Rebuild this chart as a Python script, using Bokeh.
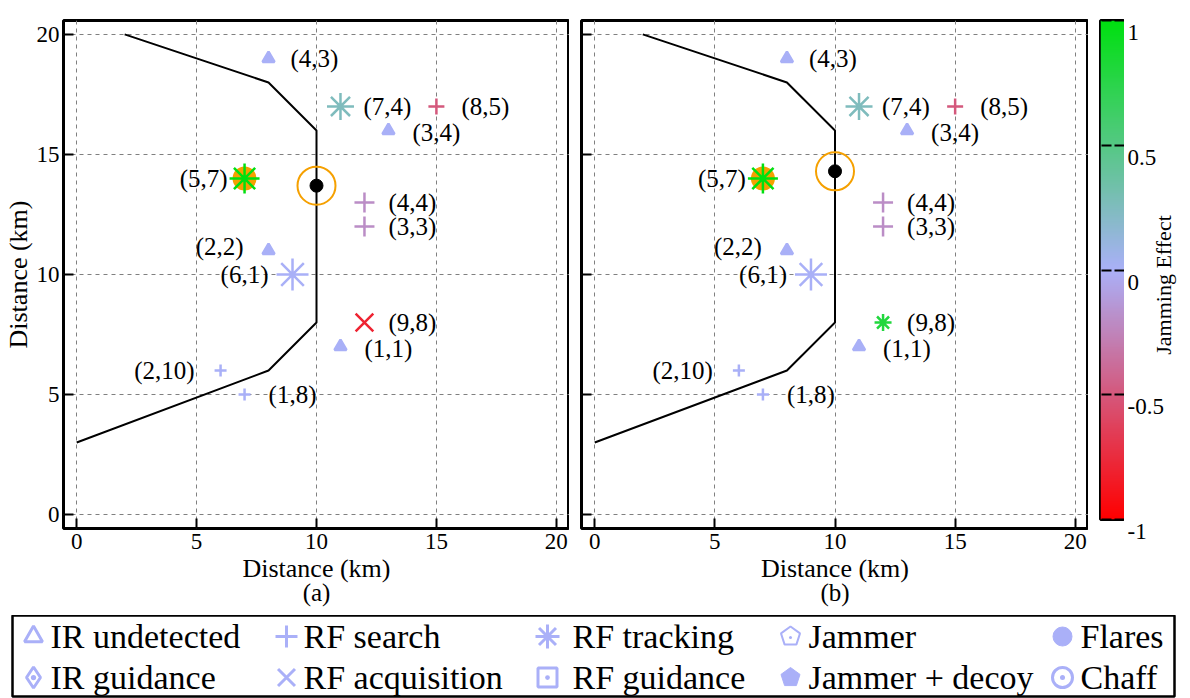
import numpy as np
from bokeh.plotting import figure
from bokeh.models import (ColumnDataSource, Range1d, FixedTicker,
                          LinearColorMapper, Title)
from bokeh.layouts import row, column
from bokeh.transform import transform
from bokeh.core.properties import value
from bokeh.embed import file_html
from bokeh.resources import INLINE

FONT = "Liberation Serif"

# ---------------- data ----------------
boundary_x = [0, 8, 10, 10, 8, 2]
boundary_y = [3, 6, 8, 16, 18, 20]

threat_x = [8, 11, 15, 13, 7, 12, 12, 8, 9, 12, 11, 6, 7]
threat_y = [19, 17, 17, 16, 14, 13, 12, 11, 10, 8, 7, 6, 5]
threat_label = ["(4,3)", "(7,4)", "(8,5)", "(3,4)", "(5,7)", "(4,4)", "(3,3)",
                "(2,2)", "(6,1)", "(9,8)", "(1,1)", "(2,10)", "(1,8)"]
threat_type_a = ["IR undetected", "RF tracking", "RF search", "IR undetected",
                 "RF tracking", "RF search", "RF search", "IR undetected",
                 "RF tracking", "RF acquisition", "IR undetected", "RF search", "RF search"]
threat_type_b = ["IR undetected", "RF tracking", "RF search", "IR undetected",
                 "RF tracking", "RF search", "RF search", "IR undetected",
                 "RF tracking", "RF tracking", "IR undetected", "RF search", "RF search"]
effect_a = [0.0, 0.25, -0.5, 0.0, 1.0, -0.2, -0.2, 0.0, 0.0, -0.8, 0.0, 0.0, 0.0]
effect_b = [0.0, 0.25, -0.5, 0.0, 1.0, -0.2, -0.2, 0.0, 0.0, 0.8, 0.0, 0.0, 0.0]

flare_x = [7]
flare_y = [14]
aircraft_x_a = [10]
aircraft_y_a = [13.7]
aircraft_x_b = [10]
aircraft_y_b = [14.3]

axis_ticks = [0, 5, 10, 15, 20]
cbar_ticks = [-1, -0.5, 0, 0.5, 1]
cbar_tick_labels = ["-1", "-0.5", "0", "0.5", "1"]
cbar_title = "Jamming Effect"

legend_labels = ["IR undetected", "RF search", "RF tracking", "Jammer", "Flares",
                 "IR guidance", "RF acquisition", "RF guidance", "Jammer + decoy", "Chaff"]

# ---------------- styles ----------------
marker_of = {"IR undetected": "triangle", "RF search": "cross",
             "RF tracking": "asterisk", "RF acquisition": "x"}
size_a = [12, 27, 16, 12, 30, 20, 20, 12, 32, 25, 12, 12, 12]
size_b = [12, 27, 16, 12, 30, 20, 20, 12, 32, 17, 12, 12, 12]
label_dx = [22, 23, 25, 24, -17, 24, 24, -25, -24, 24, 24, -26, 24]
label_dy = [0, 0, 0, 2, 0, 0, 0, -4, 0, 0, 2, 0, 0]

ORANGE = "#f5a000"
LAVENDER = "#aab0f8"

# colour scale: red -> lavender -> green
stops = [(-1.0, (255, 0, 0)), (0.0, (170, 176, 248)), (1.0, (0, 224, 16))]
palette = []
for v in np.linspace(-1, 1, 256):
    if v <= 0:
        t = v + 1.0
        c0, c1 = stops[0][1], stops[1][1]
    else:
        t = v
        c0, c1 = stops[1][1], stops[2][1]
    rgb = [int(round(a + (b - a) * t)) for a, b in zip(c0, c1)]
    palette.append("#%02x%02x%02x" % tuple(rgb))
mapper = LinearColorMapper(palette=palette, low=-1, high=1)


def hide_title(p):
    p.title.visible = False
    try:
        p.title_location = None
    except Exception:
        pass


def style_axis(ax, show_labels, ticks):
    ax.ticker = FixedTicker(ticks=ticks)
    ax.axis_line_color = None
    ax.major_tick_in = 10
    ax.major_tick_out = 0
    ax.minor_tick_in = 0
    ax.minor_tick_out = 0
    ax.major_tick_line_width = 2
    ax.major_tick_line_color = "black"
    ax.minor_tick_line_color = None
    ax.major_label_text_font = FONT
    ax.major_label_text_color = "black"
    ax.major_label_text_font_size = "23px"
    ax.axis_label_text_font = FONT
    ax.axis_label_text_font_style = "normal"
    ax.axis_label_text_color = "black"
    ax.axis_label_text_font_size = "26px"
    if show_labels:
        ax.major_label_standoff = 4
    else:
        ax.major_label_overrides = {t: "" for t in ticks}
        ax.major_label_standoff = 0


def make_panel(types, effects, sizes, ac_x, ac_y, caption, min_left, fw, show_y):
    p = figure(frame_width=fw, frame_height=508,
               x_range=Range1d(-0.55, 20.55), y_range=Range1d(-0.58, 20.58),
               output_backend="svg", toolbar_location=None,
               min_border_left=min_left, min_border_right=0,
               min_border_top=17, min_border_bottom=90)
    hide_title(p)
    p.outline_line_color = "black"
    p.outline_line_width = 3
    p.outline_line_alpha = 1
    p.background_fill_color = "white"
    p.border_fill_color = "white"

    style_axis(p.xaxis[0], True, axis_ticks)
    style_axis(p.yaxis[0], show_y, axis_ticks)
    p.xaxis[0].major_label_standoff = 5
    p.xaxis[0].axis_label = "Distance (km)"
    p.xaxis[0].axis_label_standoff = 2
    if show_y:
        p.yaxis[0].axis_label = "Distance (km)"
        p.yaxis[0].axis_label_standoff = 1

    for g in (p.xgrid[0], p.ygrid[0]):
        g.grid_line_color = "#808080"
        g.grid_line_dash = "4 4"
        g.grid_line_width = 1

    p.add_layout(Title(text=caption, align="center", text_font=FONT,
                       text_font_size="25px", text_font_style="normal",
                       text_color="black", standoff=-18), "below")

    p.line(boundary_x, boundary_y, line_color="black", line_width=2)

    p.scatter(flare_x, flare_y, marker="circle", size=24,
              fill_color=ORANGE, line_color=None)

    src = ColumnDataSource(dict(x=threat_x, y=threat_y, effect=effects,
                                marker=[marker_of[t] for t in types], size=sizes))
    p.scatter("x", "y", source=src, marker="marker", size="size",
              fill_color=transform("effect", mapper),
              line_color=transform("effect", mapper), line_width=2.5)

    right = [i for i in range(len(threat_x)) if label_dx[i] > 0]
    left = [i for i in range(len(threat_x)) if label_dx[i] < 0]
    for idx, align in ((right, "left"), (left, "right")):
        s = ColumnDataSource(dict(x=[threat_x[i] for i in idx],
                                  y=[threat_y[i] for i in idx],
                                  t=[threat_label[i] for i in idx],
                                  dx=[label_dx[i] for i in idx],
                                  dy=[label_dy[i] for i in idx]))
        p.text("x", "y", text="t", source=s, x_offset="dx", y_offset="dy",
               text_align=align, text_baseline="middle",
               text_font=value(FONT), text_font_size="25px", text_color="black")

    p.scatter(ac_x, ac_y, marker="circle", size=38, fill_color=None,
              line_color=ORANGE, line_width=2)
    p.scatter(ac_x, ac_y, marker="circle", size=13, fill_color="black",
              line_color="black")
    return p


pa = make_panel(threat_type_a, effect_a, size_a, aircraft_x_a, aircraft_y_a,
                "(a)", 63, 506, True)
pb = make_panel(threat_type_b, effect_b, size_b, aircraft_x_b, aircraft_y_b,
                "(b)", 12, 507, False)

# ---------------- colour bar ----------------
cb = figure(frame_width=24, frame_height=499, x_range=Range1d(0, 1),
            y_range=Range1d(-1, 1), output_backend="svg", toolbar_location=None,
            x_axis_location=None, y_axis_location="right",
            min_border_left=12, min_border_right=0, min_border_top=20,
            min_border_bottom=96)
hide_title(cb)
cb.grid.visible = False
cb.outline_line_color = "black"
cb.outline_line_width = 3
cb.outline_line_alpha = 1
grad = np.linspace(-1, 1, 256).reshape(-1, 1)
cb.image(image=[grad], x=0, y=-1, dw=1, dh=2, color_mapper=mapper)
yax = cb.yaxis[0]
style_axis(yax, False, cbar_ticks)
yax.major_tick_in = 24
yax.major_tick_line_dash = "10 3"

# tick labels and title of the colour bar, on the same value scale
# (frame 12 px taller at each end so the end labels are not clipped)
pad = 12 / 249.5
cl = figure(frame_width=56, frame_height=523, x_range=Range1d(0, 56),
            y_range=Range1d(-1 - pad, 1 + pad), output_backend="svg",
            toolbar_location=None, x_axis_location=None, y_axis_location=None,
            min_border_left=0, min_border_right=0, min_border_top=8,
            min_border_bottom=84)
hide_title(cl)
cl.grid.visible = False
cl.outline_line_color = None
cl.text([3] * len(cbar_ticks), cbar_ticks, text=cbar_tick_labels,
        text_align="left", text_baseline="middle", text_font=value(FONT),
        text_font_size="23px", text_color="black")
cl.text([39], [-0.012], text=[cbar_title], angle=np.pi / 2,
        text_align="center", text_baseline="middle", text_font=value(FONT),
        text_font_size="22px", text_color="black")

# ---------------- legend ----------------
LW, LH = 1162, 81
lg = figure(frame_width=LW, frame_height=LH, x_range=Range1d(0, LW),
            y_range=Range1d(LH, 0), output_backend="svg", toolbar_location=None,
            x_axis_location=None, y_axis_location=None,
            min_border_left=12, min_border_right=2, min_border_top=0,
            min_border_bottom=2)
hide_title(lg)
lg.grid.visible = False
lg.outline_line_color = "black"
lg.outline_line_width = 2.5
lg.outline_line_alpha = 1

col_icon = [21, 274, 535, 778, 1050]
col_text = [38, 291, 560, 796, 1068]
row_y = [21, 62]

leg_marker = {"IR undetected": "triangle", "RF search": "cross", "RF tracking": "asterisk",
              "Flares": "circle", "IR guidance": "diamond_dot", "RF acquisition": "x",
              "RF guidance": "square_dot", "Chaff": "circle_dot"}
leg_filled = {"Flares"}
leg_size = {"IR undetected": 18, "RF search": 22, "RF tracking": 24, "Flares": 19,
            "IR guidance": 21, "RF acquisition": 24, "RF guidance": 19, "Chaff": 20}

tx, ty = [], []
for k, lab in enumerate(legend_labels):
    r, c = divmod(k, 5)
    cx, cy = col_icon[c], row_y[r]
    tx.append(col_text[c])
    ty.append(cy)
    if lab in leg_marker:
        filled = lab in leg_filled
        lg.scatter([cx], [cy], marker=leg_marker[lab], size=leg_size[lab],
                   fill_color=LAVENDER if filled else None, line_color=LAVENDER,
                   line_width=1 if filled else 3)
    else:
        ang = np.deg2rad(90 + 72 * np.arange(5))
        rad = 10
        xs = list(cx + rad * np.cos(ang))
        ys = list(cy - rad * np.sin(ang))
        if lab == "Jammer":
            lg.patch(xs, ys, fill_color=None, line_color=LAVENDER, line_width=2)
            lg.scatter([cx], [cy + 1], marker="circle", size=3, fill_color=LAVENDER,
                       line_color=None)
        else:
            lg.patch(xs, ys, fill_color=LAVENDER, line_color=LAVENDER, line_width=1)

lg.text(tx, ty, text=legend_labels, text_align="left", text_baseline="middle",
        text_font=value(FONT), text_font_size="34px", text_color="black")

layout = column(row(pa, pb, cb, cl), lg)
open("out.html", "w").write(file_html(layout, INLINE))
